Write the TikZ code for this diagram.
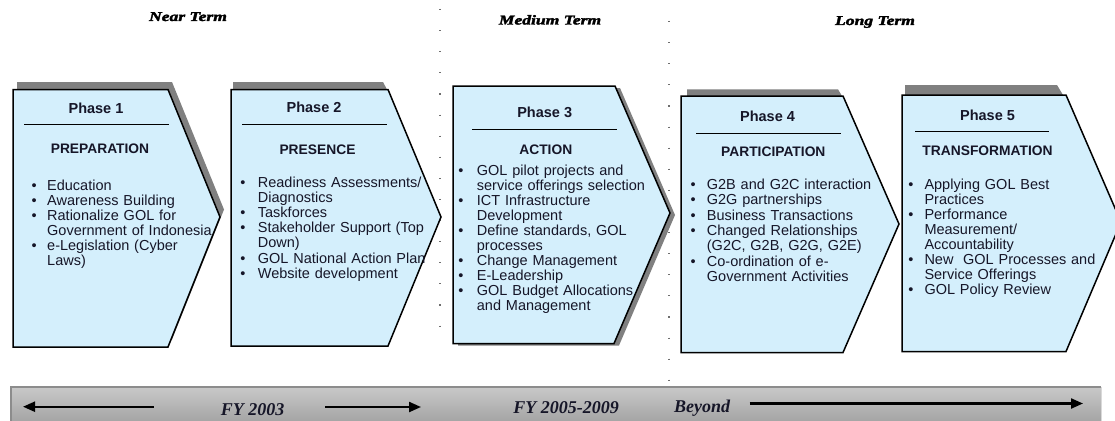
\documentclass[tikz,border=0pt]{standalone}
\usepackage{fontspec}
\setmainfont{Liberation Sans}
\newfontfamily\tmsfont{Liberation Serif}
\newfontfamily\hdrfont{Liberation Serif}[BoldItalicFeatures={FakeBold=2.2}]
\usetikzlibrary{arrows.meta}
\definecolor{boxfill}{RGB}{212,239,252}
\definecolor{shadowgray}{RGB}{128,128,128}
\definecolor{inktext}{RGB}{22,22,40}
\definecolor{barborder}{RGB}{140,140,140}
\definecolor{bartop}{RGB}{200,200,200}
\definecolor{barbot}{RGB}{162,162,162}
\definecolor{dotgray}{RGB}{110,110,110}
\newcommand\bitem[2][10.5pt]{\par\noindent\llap{\textbullet\hspace{#1}}#2}
\tikzset{
  phasebox/.style={fill=boxfill, draw=black, line width=1.5pt, line join=miter},
  shadowbox/.style={fill=shadowgray},
  phasetitle/.style={inner sep=0pt, anchor=center, text=inktext, font=\bfseries\fontsize{14.5}{16}\selectfont},
  phasesub/.style={inner sep=0pt, anchor=center, text=inktext, font=\bfseries\fontsize{13.8}{16}\selectfont},
  rulebar/.style={line width=1.5pt, black},
  listtext/.style={inner sep=0pt, anchor=north west, text width=220pt, align=left, text=inktext},
  hdr/.style={inner sep=0pt, anchor=base, font=\hdrfont\bfseries\itshape\fontsize{13.5}{16}\selectfont},
  fylabel/.style={inner sep=0pt, anchor=base, text=inktext, font=\tmsfont\bfseries\itshape\fontsize{18}{20}\selectfont},
  timearrow/.style={line width=2.2pt, -{Triangle[length=12pt,width=10pt]}},
  sepdots/.style={dotgray, line width=1.1pt, dash pattern=on 1.1pt off 20pt}
}
\begin{document}
\begin{tikzpicture}[x=1pt,y=-1pt]
\useasboundingbox (0,0) rectangle (1115,420);
\fill[white] (0,0) rectangle (1115,420);

% dotted separators
\draw[sepdots] (440,9) -- (440,346);
\draw[sepdots] (669,21) -- (669,382);

% headers
\node[hdr] (near) at (188,21) {\scalebox{1.3}[1]{Near Term}};
\node[hdr] (medium) at (550,24.5) {\scalebox{1.3}[1]{Medium Term}};
\node[hdr] (long) at (875,25) {\scalebox{1.3}[1]{Long Term}};

% Phase 1
\fill[shadowbox, shift={(4,-7.5)}] (13,89.5) -- (168,89.5) -- (220,217) -- (168,347) -- (13,347) -- cycle;
\draw[phasebox] (13,89.5) -- (168,89.5) -- (220,217) -- (168,347) -- (13,347) -- cycle;
% Phase 2
\fill[shadowbox] (233,82) -- (383,82) -- (387,89.5) -- (233,89.5) -- cycle;
\draw[phasebox] (231,89.5) -- (388,89.5) -- (441,217) -- (388,346) -- (231,346) -- cycle;
% Phase 3
\fill[shadowbox, shift={(5,2)}] (453,86) -- (615,86) -- (670,213) -- (614,343.5) -- (453,343.5) -- cycle;
\draw[phasebox] (453,86) -- (615,86) -- (670,213) -- (614,343.5) -- (453,343.5) -- cycle;
% Phase 4
\fill[shadowbox] (687,89.3) -- (838,89.3) -- (842,96) -- (687,96) -- cycle;
\draw[phasebox] (681,96) -- (843,96) -- (899,224) -- (843,352.5) -- (681,352.5) -- cycle;
% Phase 5
\fill[shadowbox] (905,85) -- (1057,85) -- (1063,95) -- (905,95) -- cycle;
\draw[phasebox] (902,95) -- (1066,95) -- (1121,222) -- (1066,351.5) -- (902,351.5) -- cycle;

% titles
\node[phasetitle] (t1) at (96,108) {Phase 1};
\node[phasetitle] (t2) at (314,107.7) {Phase 2};
\node[phasetitle] (t3) at (544.7,112.3) {Phase 3};
\node[phasetitle] (t4) at (767.5,116.7) {Phase 4};
\node[phasetitle] (t5) at (987.5,115.7) {Phase 5};

% rules
\coordinate (r1a) at (24,124.3); \coordinate (r1b) at (169,124.3);
\coordinate (r2a) at (242,124.3); \coordinate (r2b) at (387,124.3);
\coordinate (r3a) at (472,129.3); \coordinate (r3b) at (617,129.3);
\coordinate (r4a) at (696,133.3); \coordinate (r4b) at (841,133.3);
\coordinate (r5a) at (915,131.7); \coordinate (r5b) at (1049,131.7);
\draw[rulebar] (r1a) -- (r1b);
\draw[rulebar] (r2a) -- (r2b);
\draw[rulebar] (r3a) -- (r3b);
\draw[rulebar] (r4a) -- (r4b);
\draw[rulebar] (r5a) -- (r5b);

% subtitles
\node[phasesub] (s1) at (100,149) {PREPARATION};
\node[phasesub] (s2) at (317.5,149.3) {PRESENCE};
\node[phasesub] (s3) at (545.8,149.3) {ACTION};
\node[phasesub] (s4) at (773.3,151.7) {PARTICIPATION};
\node[phasesub] (s5) at (987.5,150.7) {TRANSFORMATION};

% lists
\node[listtext, font=\fontsize{14.5}{15}\selectfont] (l1) at (47,175.7) {%
\bitem{\rule{0pt}{11pt}Education}
\bitem{Awareness Building}
\bitem{Rationalize GOL for\\Government of Indonesia}
\bitem{e-Legislation (Cyber\\Laws)}};

\node[listtext, font=\fontsize{14.5}{15.2}\selectfont] (l2) at (257.7,171.7) {%
\bitem[12.5pt]{\rule{0pt}{11pt}Readiness Assessments/\\Diagnostics}
\bitem[12.5pt]{Taskforces}
\bitem[12.5pt]{Stakeholder Support (Top\\Down)}
\bitem[12.5pt]{GOL National Action Plan}
\bitem[12.5pt]{Website development}};

\node[listtext, font=\fontsize{14.5}{15}\selectfont] (l3) at (476.7,160.7) {%
\bitem[13.5pt]{\rule{0pt}{11pt}GOL pilot projects and\\service offerings selection}
\bitem[13.5pt]{ICT Infrastructure\\Development}
\bitem[13.5pt]{Define standards, GOL\\processes}
\bitem[13.5pt]{Change Management}
\bitem[13.5pt]{E-Leadership}
\bitem[13.5pt]{GOL Budget Allocations\\and Management}};

\node[listtext, font=\fontsize{14.5}{15.3}\selectfont] (l4) at (706.7,174) {%
\bitem[11.2pt]{\rule{0pt}{11pt}G2B and G2C interaction}
\bitem[11.2pt]{G2G partnerships}
\bitem[11.2pt]{Business Transactions}
\bitem[11.2pt]{Changed Relationships\\(G2C, G2B, G2G, G2E)}
\bitem[11.2pt]{Co-ordination of e-\\Government Activities}};

\node[listtext, font=\fontsize{14.5}{15}\selectfont] (l5) at (924.3,174) {%
\bitem[11.1pt]{\rule{0pt}{11pt}Applying GOL Best\\Practices}
\bitem[11.1pt]{Performance\\Measurement/\\Accountability}
\bitem[11.1pt]{New \ GOL Processes and\\Service Offerings}
\bitem[11.1pt]{GOL Policy Review}};

% bottom bar
\shade[top color=bartop, bottom color=barbot] (11,387) rectangle (1101,424);
\draw[barborder, line width=1.5pt] (11,424) -- (11,387) -- (1101,387);
\draw[white!85!black, line width=1pt] (1101,387) -- (1101,424);

\coordinate (a1s) at (153.6,406.7); \coordinate (a1e) at (23,406.7);
\coordinate (a2s) at (325,407); \coordinate (a2e) at (421,407);
\coordinate (a3s) at (749.6,403.5); \coordinate (a3e) at (1083,403.5);
\draw[timearrow] (a1s) -- (a1e);
\draw[timearrow] (a2s) -- (a2e);
\draw[timearrow] (a3s) -- (a3e);

\node[fylabel] (fy1) at (252.5,415) {FY 2003};
\node[fylabel] (fy2) at (566,413) {FY 2005-2009};
\node[fylabel] (fy3) at (702,412) {Beyond};
\end{tikzpicture}
\end{document}
